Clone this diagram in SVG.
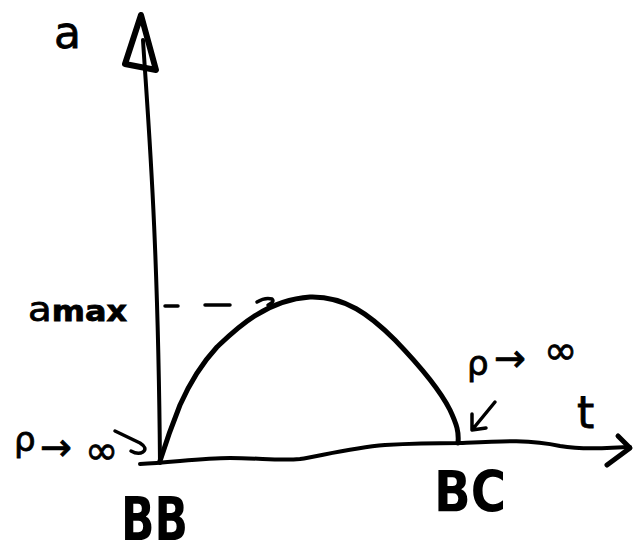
<svg xmlns="http://www.w3.org/2000/svg" width="641" height="555" viewBox="0 0 641 555">
<style>
.ln{fill:none;stroke:#000;stroke-linecap:round;stroke-linejoin:round}
.tx{font-family:"DejaVu Sans",sans-serif;fill:#000;stroke:#000;stroke-width:0.8}
.bd{font-family:"DejaVu Sans",sans-serif;font-weight:bold;fill:#000}
</style>
<rect width="641" height="555" fill="#fff"/>
<g id="connectors">
<path id="y-axis" class="ln" stroke-width="4" d="M143,40 C148,120 158,230 160,463"/>
<polygon id="y-arrowhead" class="ln" stroke-width="6" points="141,15 125,64 156,70"/>
<path id="t-axis" class="ln" stroke-width="4" d="M140,464 C170,463 200,458 230,458 C260,458 280,461 300,459 C320,456 350,448 385,445 C420,443 440,443 460,443 C500,441 530,439 560,446 C590,451 610,447 630,447"/>
<path id="t-arrowhead" class="ln" stroke-width="5" d="M618,436 L630,448 L607,465"/>
<path id="curve" class="ln" stroke-width="5" d="M160,461 C165,445 170,430 180,405 C192,378 205,360 217,347 C235,330 265,300 310,297 C345,296 370,315 395,340 C420,366 440,390 450,410 C457,425 459,432 458,443"/>
<g id="amax-dash" class="ln" stroke-width="3.5">
<path d="M165,306 L178,306"/>
<path d="M205,305 L230,305"/>
<path d="M257,302 Q265,297 272,299 Q275,302 268,305"/>
</g>
<path id="left-arrow" class="ln" stroke-width="3.5" d="M115,431 L140,443 Q148,448 143,452 Q138,455 131,451"/>
<path id="right-arrow" class="ln" stroke-width="3.5" d="M495,402 L472,430 M472,414 L472,430 L486,428"/>
</g>
<g id="label-a"><text class="tx" x="54" y="48" font-size="44">a</text></g>
<g id="label-amax"><text class="tx" x="28" y="321" font-size="34" textLength="99" lengthAdjust="spacingAndGlyphs">a<tspan font-weight="bold" font-size="28">max</tspan></text></g>
<g id="label-rho-left"><text class="tx"><tspan x="14" y="451" font-size="34">ρ</tspan><tspan x="40" y="460" font-size="38">→</tspan><tspan x="85" y="464" font-size="40">∞</tspan></text></g>
<g id="label-rho-right"><text class="tx"><tspan x="467" y="375" font-size="34">ρ</tspan><tspan x="494" y="371" font-size="38">→</tspan><tspan x="544" y="364" font-size="40">∞</tspan></text></g>
<g id="label-t"><text class="tx" x="577" y="428" font-size="44">t</text></g>
<g id="label-BB"><text class="bd" x="121" y="540" font-size="60" textLength="67" lengthAdjust="spacingAndGlyphs">BB</text></g>
<g id="label-BC"><text class="bd" x="434" y="512" font-size="57" textLength="72" lengthAdjust="spacingAndGlyphs">BC</text></g>
</svg>
